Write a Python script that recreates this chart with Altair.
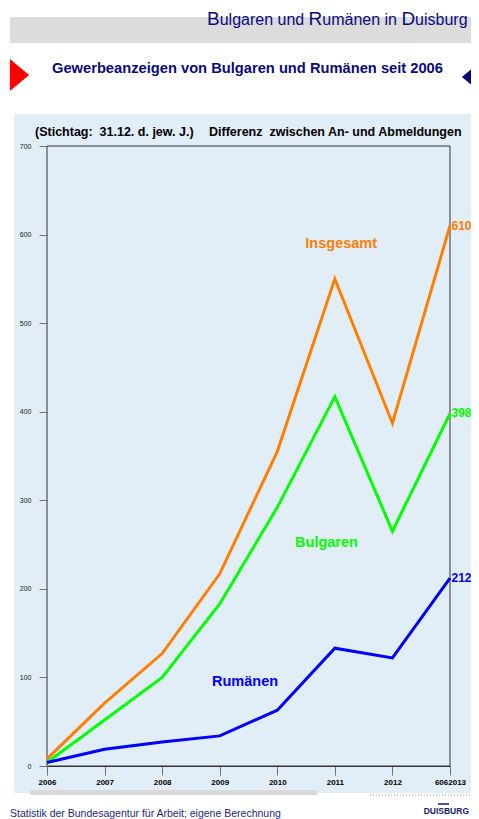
import altair as alt
import pandas as pd

# ---------------- data ----------------
years = [2006, 2007, 2008, 2009, 2010, 2011, 2012, 2013]
insgesamt = [8, 71, 127, 217, 355, 550, 387, 610]
bulgaren = [4, 52, 100, 183, 292, 417, 265, 398]
rumaenen = [4, 19, 27, 34, 63, 133, 122, 212]

series = ["Insgesamt", "Bulgaren", "Rumänen"]
colors = ["#FF8000", "#00FF00", "#0000FF"]

y_ticks = [0, 100, 200, 300, 400, 500, 600, 700]
x_ticks = [2006 + 0.5 * i for i in range(15)]
x_last_label = "6062013"

label_text = ["Insgesamt", "Bulgaren", "Rumänen"]
label_x = [2011.11, 2010.855, 2009.44]
label_y = [589, 252, 95]

end_text = ["610", "398", "212"]

FONT = "Liberation Sans"
NAVY = "#0A0A7C"

# ---------------- tables ----------------
rows = []
for name, vals in zip(series, [insgesamt, bulgaren, rumaenen]):
    for yr, v in zip(years, vals):
        rows.append({"Jahr": yr, "Wert": v, "Serie": name})
df = pd.DataFrame(rows)

lab_df = pd.DataFrame({"Jahr": label_x, "Wert": label_y, "Serie": series, "t": label_text})
end_df = pd.DataFrame({"Jahr": [years[-1]] * 3,
                       "Wert": [insgesamt[-1], bulgaren[-1], rumaenen[-1]],
                       "Serie": series, "t": end_text})

W, H = 403, 620
OX, OY = 47, 146  # page position of plot origin
one = pd.DataFrame({"a": [0]})

color_scale = alt.Scale(domain=series, range=colors)
xs = alt.Scale(domain=[2006, 2013], nice=False, zero=False)
ys = alt.Scale(domain=[0, 700], nice=False, zero=True)


def rect(x1, y1, x2, y2, fill, **kw):
    return alt.Chart(one).mark_rect(fill=fill, **kw).encode(
        x=alt.value(x1 - OX), x2=alt.value(x2 - OX),
        y=alt.value(y1 - OY), y2=alt.value(y2 - OY))


def txt(s, x, y, size, color, weight="normal", align="left"):
    return alt.Chart(one).mark_text(
        text=s, fontSize=size, color=color, fontWeight=weight, align=align,
        baseline="alphabetic", font=FONT).encode(
        x=alt.value(x - OX), y=alt.value(y - OY))


def tri(cx, cy, path, color):
    return alt.Chart(one).mark_point(
        shape=path, size=1024, filled=True, fill=color, opacity=1, strokeWidth=0).encode(
        x=alt.value(cx - OX), y=alt.value(cy - OY))


panel = rect(14, 114, 490, 793, "#E1EDF7")
scrollbar = rect(30, 790, 317, 795, "#D9D9D9")
titlebar = rect(10, 17, 490, 43, "#DCDCDC")

title_parts = [
    txt("B", 207, 25, 19, NAVY),
    txt("ulgaren und", 219.7, 25, 16, NAVY),
    txt("R", 308.6, 25, 19, NAVY),
    txt("umänen in", 322.3, 25, 16, NAVY),
    txt("D", 401.4, 25, 19, NAVY),
    txt("uisburg", 415.1, 25, 16, NAVY),
]

subtitle = txt("Gewerbeanzeigen von Bulgaren und Rumänen seit 2006", 52, 73, 14.7, NAVY, "bold")
red_tri = tri(19.5, 75, "M-0.6,-1L0.6,0L-0.6,1Z", "#FF0000")
navy_tri = tri(471.5, 77, "M0.6,-1L-0.6,0L0.6,1Z", "#00007A")

stich1 = txt("(Stichtag:\u00a0 31.12. d. jew. J.)", 35, 136, 12.5, "#000000", "bold")
stich2 = txt("Differenz\u00a0 zwischen An- und Abmeldungen", 209, 136, 12.5, "#000000", "bold")

frame = rect(OX, OY, OX + W, OY + H, "#E1EDF7", fillOpacity=0, stroke="#333333", strokeWidth=1)

x_axis = alt.Axis(values=x_ticks, grid=False, title=None, zindex=1,
                  labelExpr=f"datum.value == 2013 ? '{x_last_label}' : (datum.value % 1 == 0 ? format(datum.value, 'd') : '')",
                  labelFontSize=8, labelFontWeight="bold", labelColor="#000000", labelFont=FONT,
                  labelPadding=3, labelOverlap=False, labelFlush=False,
                  tickColor="#707070", tickSize=9, domainColor="#333333")
y_axis = alt.Axis(values=y_ticks, grid=False, title=None, zindex=1, domain=False,
                  labelFontSize=7, labelColor="#222222", labelFont=FONT, labelPadding=8,
                  tickColor="#707070", tickSize=8)

lines = alt.Chart(df).mark_line(strokeWidth=3).encode(
    x=alt.X("Jahr:Q", scale=xs, axis=x_axis),
    y=alt.Y("Wert:Q", scale=ys, axis=y_axis),
    color=alt.Color("Serie:N", scale=color_scale, legend=None),
    detail="Serie:N",
)

labels = alt.Chart(lab_df).mark_text(fontSize=14.5, fontWeight="bold", font=FONT,
                                     align="center", baseline="middle").encode(
    x=alt.X("Jahr:Q", scale=xs), y=alt.Y("Wert:Q", scale=ys),
    text="t:N", color=alt.Color("Serie:N", scale=color_scale, legend=None))

ends = alt.Chart(end_df).mark_text(fontSize=12, fontWeight="bold", font=FONT,
                                   align="left", baseline="middle", dx=1.5).encode(
    x=alt.X("Jahr:Q", scale=xs), y=alt.Y("Wert:Q", scale=ys),
    text="t:N", color=alt.Color("Serie:N", scale=color_scale, legend=None))

footer = txt("Statistik der Bundesagentur für Arbeit; eigene Berechnung", 10, 817, 10.5, "#1F1F80")

dots = alt.Chart(one).mark_rule(color="#9A9A9A", strokeDash=[1, 2], strokeWidth=1).encode(
    x=alt.value(370 - OX), x2=alt.value(490 - OX), y=alt.value(795 - OY))
logo_bar = alt.Chart(one).mark_rule(color="#1a1a6e", strokeWidth=1.5).encode(
    x=alt.value(438 - OX), x2=alt.value(449 - OX), y=alt.value(804 - OY))
logo = txt("DUISBURG", 469, 814, 8.5, "#1a1a6e", "bold", align="right")

chart = alt.layer(
    panel, scrollbar, titlebar, *title_parts, subtitle, red_tri, navy_tri,
    stich1, stich2, frame, lines, labels, ends, footer, dots, logo_bar, logo,
).properties(
    width=W, height=H,
    autosize=alt.AutoSizeParams(type="none"),
    padding={"left": 39, "top": 138, "right": 21, "bottom": 53},
    background="#FFFFFF",
).configure_view(strokeWidth=0)

chart.save("out.html", embed_options={"renderer": "svg", "actions": False})
